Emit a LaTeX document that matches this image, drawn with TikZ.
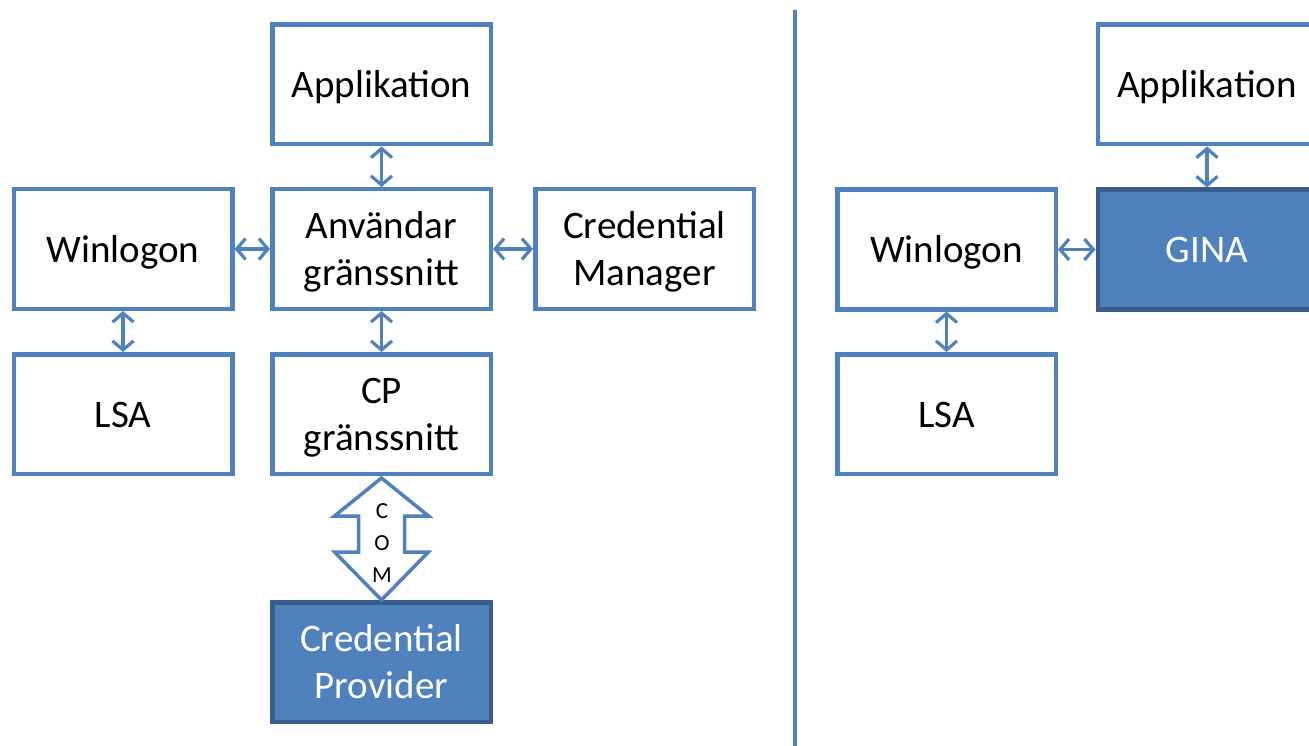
\documentclass[tikz,border=0pt]{standalone}
\usepackage{fontspec}
\setmainfont{Carlito}
\usetikzlibrary{arrows.meta,calc}
\definecolor{oblue}{HTML}{4F81BD}
\definecolor{dblue}{HTML}{385D8A}
\newcommand{\bt}[1]{\raisebox{-4pt}[\height][\depth]{\begin{tabular}{@{}c@{}}#1\end{tabular}}}
\tikzset{
  box/.style={draw=oblue, line width=4.5pt, fill=white, minimum width=218.5pt, minimum height=119.5pt,
    inner sep=0pt, align=center, font=\fontsize{39}{47}\selectfont},
  fbox/.style={box, draw=dblue, fill=oblue, text=white},
  dbl/.style={draw=oblue, line width=3.2pt, {Straight Barb[length=9pt,width=21pt]}-{Straight Barb[length=9pt,width=21pt]}},
  comarrow/.style={draw=oblue, line width=3.5pt, fill=white, line join=miter},
}
\begin{document}
\begin{tikzpicture}[x=1pt,y=-1pt]
\useasboundingbox (0,0) rectangle (1309,746);
% left part
\node[box] (appl) at (381.5,84.5) {\bt{Applikation}};
\node[box] (winl) at (123,249) {\bt{Winlogon}};
\node[box] (anv) at (381.5,249) {\bt{Användar\\gränssnitt}};
\node[box] (cm) at (644.5,249) {\bt{Credential\\Manager}};
\node[box] (lsal) at (123,414) {\bt{LSA}};
\node[box] (cp) at (381.5,414) {\bt{CP\\gränssnitt}};
\node[fbox] (cprov) at (381.5,662) {\bt{Credential\\Provider}};
\draw[dbl] (appl) -- (anv);
\draw[dbl] (winl) -- (anv);
\draw[dbl] (cm) -- (anv);
\draw[dbl] (winl) -- (lsal);
\draw[dbl] (anv) -- (cp);
% COM arrow
\coordinate (comtop) at ($(cp.south)+(0,2)$);
\coordinate (combot) at (cprov.north);
\draw[comarrow] (comtop) -- ++(47,38) -- ++(-24,0) -- ++(0,36) -- ++(24,0) -- (combot)
  -- ++(-47,-48) -- ++(24,0) -- ++(0,-36) -- ++(-24,0) -- cycle;
\node[align=center, font=\fontsize{23}{32}\selectfont, inner sep=0pt] (com) at (382,543) {C\\O\\M};
% divider
\coordinate (divtop) at (795,10);
\coordinate (divbot) at (795,746);
\draw[oblue, line width=4pt] (divtop) -- (divbot);
% right part
\node[box] (appr) at (1207,84.5) {\bt{Applikation}};
\node[box] (winr) at (946.5,249.5) {\bt{Winlogon}};
\node[fbox] (gina) at (1207,249.5) {\bt{GINA}};
\node[box] (lsar) at (946.5,414) {\bt{LSA}};
\draw[dbl] (appr) -- (gina);
\draw[dbl] (winr) -- (gina);
\draw[dbl] (winr) -- (lsar);
\end{tikzpicture}
\end{document}
